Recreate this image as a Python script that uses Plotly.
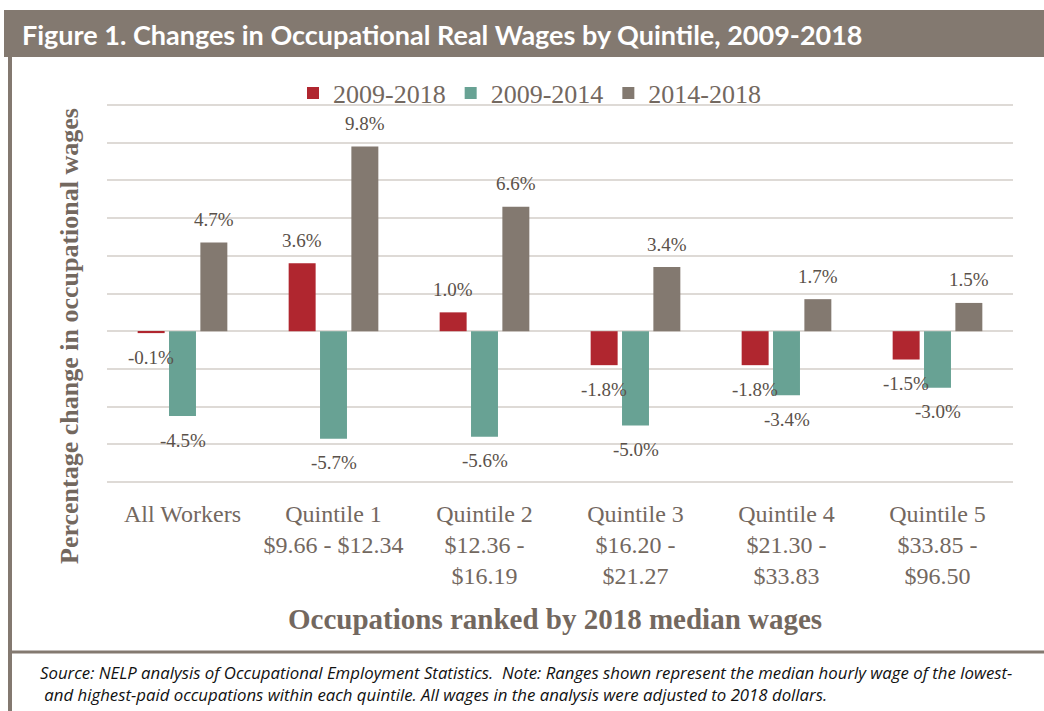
import plotly.graph_objects as go

categories = [
    "All Workers",
    "Quintile 1<br>$9.66 - $12.34",
    "Quintile 2<br>$12.36 -<br>$16.19",
    "Quintile 3<br>$16.20 -<br>$21.27",
    "Quintile 4<br>$21.30 -<br>$33.83",
    "Quintile 5<br>$33.85 -<br>$96.50",
]
series_names = ["2009-2018", "2009-2014", "2014-2018"]
vals_2009_2018 = [-0.1, 3.6, 1.0, -1.8, -1.8, -1.5]
vals_2009_2014 = [-4.5, -5.7, -5.6, -5.0, -3.4, -3.0]
vals_2014_2018 = [4.7, 9.8, 6.6, 3.4, 1.7, 1.5]
series_values = [vals_2009_2018, vals_2009_2014, vals_2014_2018]
colors = ["#b0262f", "#68a294", "#837970"]

W, H = 1044, 711
L, R, T, B = 107, 1013, 103, 484  # plot area in px
BARGAP = 0.377
BARGROUPGAP = 0.14


def px_x(p):
    return (p - L) / (R - L)


def px_y(p):
    return (B - p) / (B - T)


SERIF = "Liberation Serif"
TXT = "#73685f"
LBL = "#5a514a"
BRAND = "#837970"

fig = go.Figure()
for name, vals, col in zip(series_names, series_values, colors):
    fig.add_trace(go.Bar(name=name, x=categories, y=vals, marker_color=col,
                         marker_line_width=0))

# data labels
cat_w = (R - L) / len(categories)
slot = cat_w * (1 - BARGAP) / 3
annotations = []
for i, vals in enumerate(series_values):
    for c, v in zip(categories, vals):
        annotations.append(dict(
            x=c, y=v, xref="x", yref="y", text=f"{v:.1f}%", showarrow=False,
            xshift=(i - 1) * slot, yshift=23 if v >= 0 else -24,
            yanchor="middle", font=dict(family=SERIF, size=19, color=LBL)))

# title
annotations.append(dict(
    x=px_x(20), y=px_y(34), xref="paper", yref="paper", xanchor="left", yanchor="middle",
    text="<b>Figure 1. Changes in Occupational Real Wages by Quintile, 2009-2018</b>",
    showarrow=False, font=dict(family="Lato", size=27, color="white")))
# axis titles
annotations.append(dict(
    x=px_x(69), y=px_y(336), xref="paper", yref="paper", xanchor="center", yanchor="middle",
    text="<b>Percentage change in occupational wages</b>", textangle=-90,
    showarrow=False, font=dict(family=SERIF, size=26, color=TXT)))
annotations.append(dict(
    x=px_x(555), y=px_y(619), xref="paper", yref="paper", xanchor="center", yanchor="middle",
    text="<b>Occupations ranked by 2018 median wages</b>",
    showarrow=False, font=dict(family=SERIF, size=29, color=TXT)))
# source note
annotations.append(dict(
    x=px_x(38), y=px_y(683), xref="paper", yref="paper", xanchor="left", yanchor="middle",
    align="left",
    text=("<i>Source: NELP analysis of Occupational Employment Statistics.  Note: Ranges shown represent "
          "the median hourly wage of the lowest-<br> and highest-paid occupations within each quintile. "
          "All wages in the analysis were adjusted to 2018 dollars.</i>"),
    showarrow=False, font=dict(family="Open Sans", size=16.8, color="#111111")))

shapes = [
    dict(type="rect", xref="paper", yref="paper", x0=px_x(4), x1=px_x(1044),
         y0=px_y(57), y1=px_y(10), fillcolor=BRAND, line=dict(width=0), layer="below"),
    dict(type="line", xref="paper", yref="paper", x0=px_x(10), x1=px_x(10),
         y0=px_y(57), y1=px_y(711), line=dict(color=BRAND, width=4)),
    dict(type="line", xref="paper", yref="paper", x0=px_x(10), x1=px_x(1044),
         y0=px_y(652), y1=px_y(652), line=dict(color=BRAND, width=3)),
]

fig.update_layout(
    width=W, height=H,
    margin=dict(l=L, r=W - R, t=T, b=H - B, pad=0),
    paper_bgcolor="white", plot_bgcolor="white",
    barmode="group", bargap=BARGAP, bargroupgap=BARGROUPGAP,
    showlegend=True,
    legend=dict(orientation="h", x=px_x(293), y=px_y(93), xanchor="left", yanchor="middle",
                font=dict(family=SERIF, size=26, color=TXT), bgcolor="rgba(0,0,0,0)",
                itemclick=False, traceorder="normal"),
    annotations=annotations,
    shapes=shapes,
    xaxis=dict(showgrid=False, showline=False, ticks="", ticklabelstandoff=13,
               tickfont=dict(family=SERIF, size=24, color=TXT), fixedrange=True),
    yaxis=dict(range=[-8.1, 12.1], dtick=2, showticklabels=False, showgrid=True,
               gridcolor="#dedad6", gridwidth=2, zeroline=True, zerolinecolor="#dedad6",
               zerolinewidth=2, showline=False, fixedrange=True),
)

fig.write_html("out.html")
